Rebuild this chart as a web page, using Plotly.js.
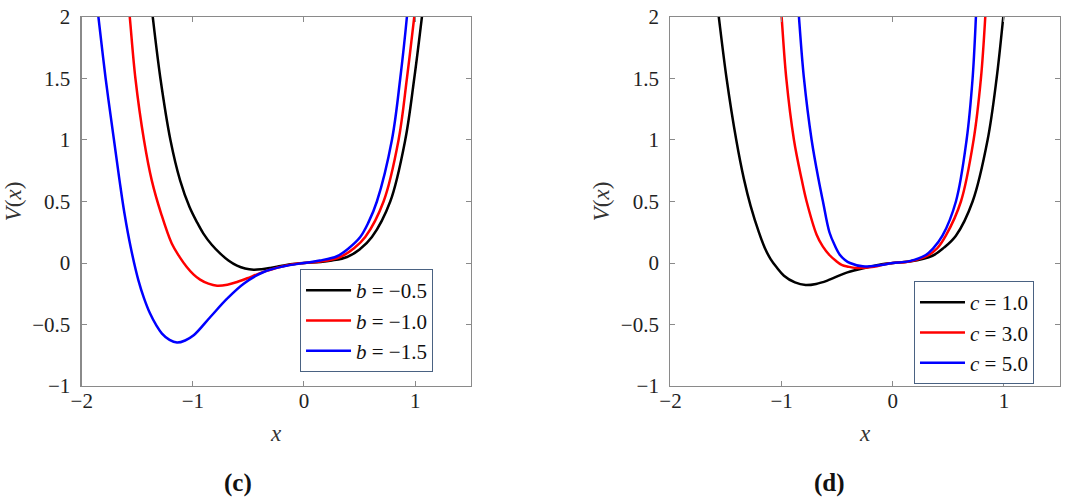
<!DOCTYPE html>
<html>
<head>
<meta charset="utf-8">
<script src="https://cdn.plot.ly/plotly-3.0.1.min.js"></script>
<style>html,body{margin:0;padding:0;background:#fff;}#chart{width:1070px;height:504px;}</style>
</head>
<body>
<div id="chart"></div>
<script>
// ---- Panel (c): varying b ----
const bLabels = ['<i>b</i> = −0.5', '<i>b</i> = −1.0', '<i>b</i> = −1.5'];
const bX1 = [-1.385, -1.361, -1.292, -1.202, -1.115, -1.03, -0.965, -0.905, -0.83, -0.753, -0.68, -0.603, -0.53, -0.453, -0.38, -0.303, -0.21, -0.123, 0, 0.15, 0.25, 0.387, 0.5, 0.611, 0.776, 0.911, 0.992, 1.061, 1.08];
const bY1 = [2.2, 2.0, 1.5, 1.0, 0.672, 0.455, 0.335, 0.239, 0.148, 0.076, 0.02, -0.022, -0.045, -0.054, -0.05, -0.04, -0.025, -0.011, 0, 0.008, 0.02, 0.049, 0.11, 0.211, 0.5, 1.0, 1.5, 2.0, 2.15];
const bX2 = [-1.59, -1.568, -1.517, -1.44, -1.37, -1.285, -1.19, -1.12, -1.055, -0.995, -0.935, -0.86, -0.782, -0.69, -0.602, -0.51, -0.423, -0.33, -0.243, -0.1, 0, 0.15, 0.326, 0.45, 0.551, 0.716, 0.851, 0.926, 0.992, 1.01];
const bY2 = [2.2, 2.0, 1.5, 1.0, 0.672, 0.4, 0.158, 0.05, -0.032, -0.092, -0.135, -0.168, -0.184, -0.176, -0.154, -0.124, -0.092, -0.062, -0.038, -0.01, 0, 0.012, 0.049, 0.12, 0.211, 0.5, 1.0, 1.5, 2.0, 2.15];
const bX3 = [-1.87, -1.85, -1.785, -1.71, -1.66, -1.615, -1.56, -1.49, -1.44, -1.385, -1.33, -1.278, -1.21, -1.143, -1.07, -0.993, -0.843, -0.692, -0.543, -0.363, -0.183, 0, 0.142, 0.297, 0.4, 0.506, 0.58, 0.656, 0.791, 0.866, 0.926, 0.94];
const bY3 = [2.15, 2.0, 1.5, 1.0, 0.672, 0.4, 0.13, -0.141, -0.285, -0.411, -0.505, -0.574, -0.625, -0.647, -0.63, -0.588, -0.439, -0.29, -0.168, -0.073, -0.027, 0, 0.02, 0.055, 0.118, 0.211, 0.33, 0.5, 1.0, 1.5, 2.0, 2.15];

// ---- Panel (d): varying c ----
const cLabels = ['<i>c</i> = 1.0', '<i>c</i> = 3.0', '<i>c</i> = 5.0'];
const cX1 = [-1.585, -1.565, -1.495, -1.408, -1.339, -1.279, -1.204, -1.15, -1.099, -1.045, -0.979, -0.88, -0.784, -0.69, -0.589, -0.408, -0.228, -0.1, 0, 0.15, 0.357, 0.46, 0.568, 0.718, 0.853, 0.934, 0.994, 1.01];
const cY1 = [2.15, 2.0, 1.5, 1.0, 0.682, 0.465, 0.249, 0.12, 0.032, -0.035, -0.103, -0.158, -0.179, -0.17, -0.143, -0.076, -0.035, -0.01, 0, 0.012, 0.059, 0.125, 0.222, 0.5, 1.0, 1.5, 2.0, 2.15];
const cX2 = [-1.012, -1.0, -0.958, -0.889, -0.82, -0.775, -0.685, -0.63, -0.57, -0.515, -0.46, -0.4, -0.33, -0.17, -0.07, 0, 0.15, 0.312, 0.40, 0.477, 0.613, 0.727, 0.793, 0.832, 0.84];
const cY2 = [2.15, 2.0, 1.5, 1.0, 0.68, 0.5, 0.23, 0.135, 0.065, 0.02, -0.015, -0.03, -0.04, -0.03, -0.01, 0, 0.012, 0.059, 0.12, 0.222, 0.5, 1.0, 1.5, 2.0, 2.15];
const cX3 = [-0.855, -0.844, -0.799, -0.73, -0.668, -0.628, -0.57, -0.52, -0.475, -0.43, -0.385, -0.27, -0.11, 0, 0.15, 0.297, 0.36, 0.447, 0.568, 0.664, 0.718, 0.748, 0.755];
const cY3 = [2.15, 2.0, 1.5, 1.0, 0.68, 0.5, 0.25, 0.14, 0.065, 0.025, 0.0, -0.027, -0.016, 0, 0.015, 0.065, 0.115, 0.222, 0.5, 1.0, 1.5, 2.0, 2.15];

const xTickVals = [-2, -1, 0, 1];
const xTickText = ['−2', '−1', '0', '1'];
const yTickVals = [-1, -0.5, 0, 0.5, 1, 1.5, 2];
const yTickText = ['−1', '−0.5', '0', '0.5', '1', '1.5', '2'];
const panelLabels = ['(c)', '(d)'];

const colors = ['#000000', '#ff0000', '#0000ff'];
const FONT = 'Liberation Serif, "Times New Roman", Times, serif';

function tr(x, y, name, color, xa, ya, leg) {
  return {x: x, y: y, name: name, type: 'scatter', mode: 'lines',
    line: {color: color, width: 2.5, shape: 'spline', smoothing: 1},
    xaxis: xa, yaxis: ya, legend: leg, hoverinfo: 'skip'};
}
const data = [
  tr(bX1, bY1, bLabels[0], colors[0], 'x', 'y', 'legend'),
  tr(bX2, bY2, bLabels[1], colors[1], 'x', 'y', 'legend'),
  tr(bX3, bY3, bLabels[2], colors[2], 'x', 'y', 'legend'),
  tr(cX1, cY1, cLabels[0], colors[0], 'x2', 'y2', 'legend2'),
  tr(cX2, cY2, cLabels[1], colors[1], 'x2', 'y2', 'legend2'),
  tr(cX3, cY3, cLabels[2], colors[2], 'x2', 'y2', 'legend2')
];

const axColor = '#8a8a8a';
function xax(dom) {
  return {domain: dom, range: [-2, 1.5], tickvals: xTickVals, ticktext: xTickText,
    ticks: 'inside', ticklen: 5, tickcolor: axColor, showline: true, linecolor: axColor, linewidth: 1.3,
    mirror: 'ticks', showgrid: false, zeroline: false, fixedrange: true,
    tickfont: {family: FONT, size: 21, color: '#222'}, ticklabelstandoff: -5,
    title: {text: '<i>x</i>', font: {family: FONT, size: 23, color: '#333'}, standoff: 13}};
}
function yax(anchor) {
  return {domain: [0.2341, 0.9663], range: [-1, 2], tickvals: yTickVals, ticktext: yTickText, anchor: anchor,
    ticks: 'inside', ticklen: 5, tickcolor: axColor, showline: true, linecolor: axColor, linewidth: 1.3,
    mirror: 'ticks', showgrid: false, zeroline: false, fixedrange: true,
    tickfont: {family: FONT, size: 21, color: '#222'}, ticklabelstandoff: 6,
    title: {text: '<i>V</i>(<i>x</i>)', font: {family: FONT, size: 23, color: '#333'}, standoff: 4}};
}
function leg(x, y) {
  return {x: x, y: y, xanchor: 'left', yanchor: 'top', xref: 'paper', yref: 'paper',
    bgcolor: '#ffffff', bordercolor: '#4a6282', borderwidth: 1,
    font: {family: FONT, size: 21, color: '#111'}, itemwidth: 45, tracegroupgap: 0};
}

const layout = {
  width: 1070, height: 504,
  margin: {l: 0, r: 0, t: 0, b: 0},
  font: {family: FONT, color: '#222'},
  paper_bgcolor: '#ffffff', plot_bgcolor: '#ffffff',
  showlegend: true,
  xaxis: Object.assign(xax([0.0764, 0.4399]), {anchor: 'y'}),
  yaxis: yax('x'),
  xaxis2: Object.assign(xax([0.6266, 0.9902]), {anchor: 'y2'}),
  yaxis2: yax('x2'),
  legend: leg(0.2804, 0.4663),
  legend2: leg(0.8542, 0.4425),
  annotations: [
    {text: '<b>' + panelLabels[0] + '</b>', x: 238 / 1070, y: 1 - 483 / 504, xref: 'paper', yref: 'paper',
     showarrow: false, xanchor: 'center', yanchor: 'middle', font: {family: FONT, size: 25, color: '#111'}},
    {text: '<b>' + panelLabels[1] + '</b>', x: 829 / 1070, y: 1 - 483 / 504, xref: 'paper', yref: 'paper',
     showarrow: false, xanchor: 'center', yanchor: 'middle', font: {family: FONT, size: 25, color: '#111'}}
  ]
};

Plotly.newPlot('chart', data, layout, {displayModeBar: false, staticPlot: true});
</script>
</body>
</html>
